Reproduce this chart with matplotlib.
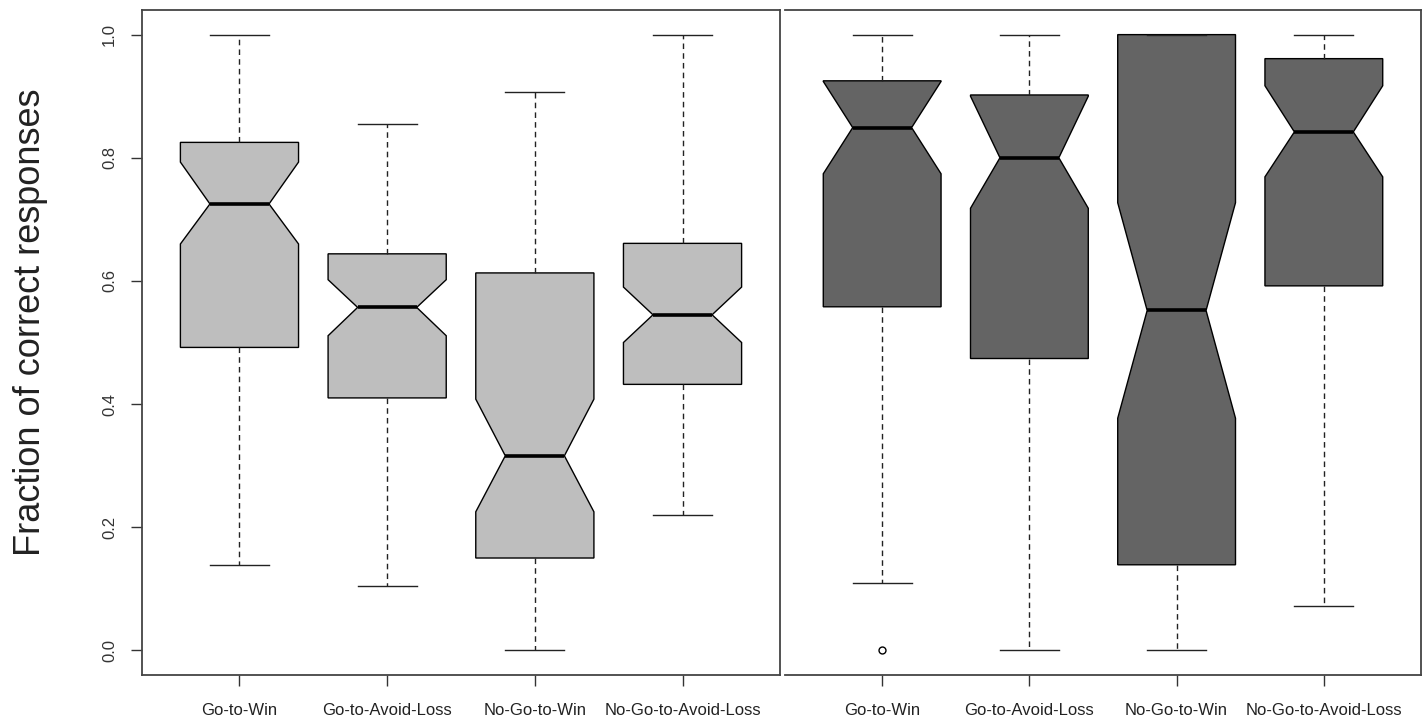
import matplotlib
matplotlib.use("Agg")
import matplotlib.pyplot as plt

# conditions (same order in both panels)
conds = ["Go-to-Win", "Go-to-Avoid-Loss", "No-Go-to-Win", "No-Go-to-Avoid-Loss"]

# left panel (light boxes)
left_whislo = [0.139, 0.105, 0.000, 0.220]
left_q1     = [0.492, 0.410, 0.150, 0.432]
left_cilo   = [0.660, 0.511, 0.225, 0.500]
left_med    = [0.725, 0.557, 0.316, 0.545]
left_cihi   = [0.793, 0.602, 0.408, 0.590]
left_q3     = [0.825, 0.644, 0.613, 0.661]
left_whishi = [1.000, 0.855, 0.907, 1.000]
left_fliers = [[], [], [], []]

# right panel (dark boxes)
right_whislo = [0.110, 0.000, 0.000, 0.072]
right_q1     = [0.558, 0.474, 0.139, 0.592]
right_cilo   = [0.774, 0.718, 0.377, 0.769]
right_med    = [0.849, 0.800, 0.552, 0.842]
right_cihi   = [0.924, 0.900, 0.727, 0.917]
right_q3     = [0.925, 0.902, 1.000, 0.961]
right_whishi = [1.000, 1.000, 1.000, 1.000]
right_fliers = [[0.0], [], [], []]

yticks = [0.0, 0.2, 0.4, 0.6, 0.8, 1.0]


def make_stats(whislo, q1, cilo, med, cihi, q3, whishi, fliers):
    stats = []
    for i in range(len(med)):
        stats.append(dict(whislo=whislo[i], q1=q1[i], cilo=cilo[i], med=med[i],
                          cihi=cihi[i], q3=q3[i], whishi=whishi[i],
                          fliers=fliers[i], label=conds[i]))
    return stats


def draw_panel(ax, stats, fill):
    ax.bxp(stats, positions=[1, 2, 3, 4], widths=0.8, capwidths=0.4,
           shownotches=True, patch_artist=True,
           boxprops=dict(facecolor=fill, edgecolor="black", linewidth=1.0),
           medianprops=dict(color="black", linewidth=2.6, solid_capstyle="butt"),
           whiskerprops=dict(color="#222222", linewidth=1.0, linestyle=(0, (4, 3))),
           capprops=dict(color="#222222", linewidth=1.0),
           flierprops=dict(marker="o", markersize=5, markerfacecolor="white",
                           markeredgecolor="black", markeredgewidth=1.0))
    ax.set_xlim(0.34, 4.66)
    ax.set_ylim(-0.04, 1.04)
    ax.set_xticks([1, 2, 3, 4])
    ax.set_xticklabels(conds, family="Liberation Sans", fontsize=12, color="#222222")
    ax.tick_params(axis="x", length=8, width=1.0, color="#333333", pad=12)
    for s in ax.spines.values():
        s.set_color("#444444")
        s.set_linewidth(1.3)


fig = plt.figure(figsize=(14.26, 7.26), dpi=100)
ax1 = fig.add_axes([142 / 1426, 1 - 675 / 726, 638 / 1426, 665 / 726])
ax2 = fig.add_axes([785 / 1426, 1 - 675 / 726, 636 / 1426, 665 / 726])

draw_panel(ax1, make_stats(left_whislo, left_q1, left_cilo, left_med, left_cihi,
                           left_q3, left_whishi, left_fliers), "#bebebe")
draw_panel(ax2, make_stats(right_whislo, right_q1, right_cilo, right_med, right_cihi,
                           right_q3, right_whishi, right_fliers), "#646464")

ax1.set_yticks(yticks)
ax1.set_yticklabels(["%.1f" % v for v in yticks], rotation=90, va="center",
                    family="Liberation Sans", fontsize=12, color="#333333")
ax1.tick_params(axis="y", length=8, width=1.0, color="#333333", pad=10)

ax2.set_yticks([])
ax2.spines["left"].set_visible(False)

fig.text(31 / 1426, 1 - 322 / 726, "Fraction of correct responses", rotation=90,
         ha="center", va="center", family="Liberation Sans", fontsize=26,
         color="#222222")

fig.savefig("out.png", dpi=100, facecolor="white")
